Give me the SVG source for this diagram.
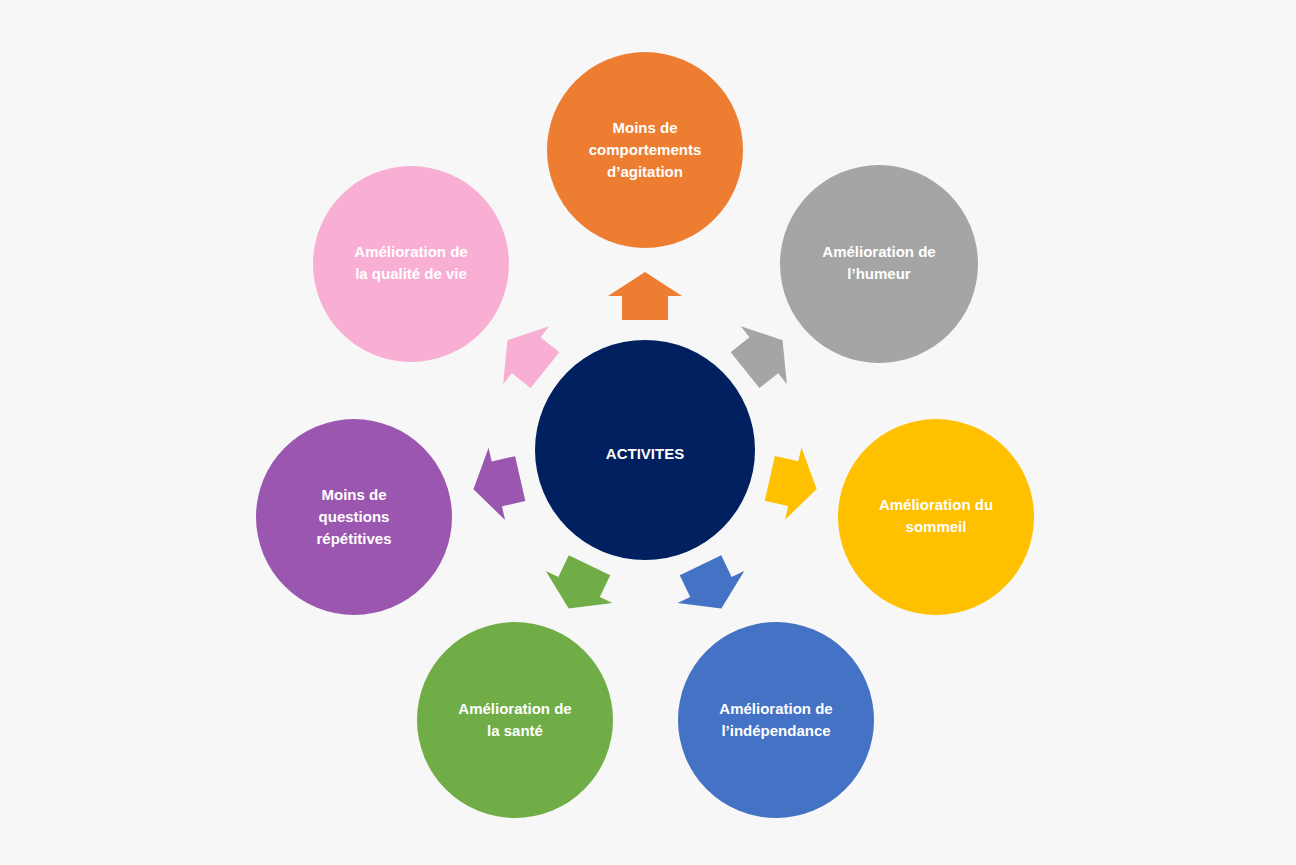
<svg xmlns="http://www.w3.org/2000/svg" width="1296" height="865" viewBox="0 0 1296 865">
<style>
text{font-family:"Liberation Sans",Arial,sans-serif;font-weight:bold;fill:#fff;font-size:15px;text-anchor:middle}
</style>
<defs><path id="arr" d="M0,-24 L37,0 L23,0 L23,24 L-23,24 L-23,0 L-37,0 Z"/></defs>
<rect width="1296" height="865" fill="#f7f7f7"/>
<g id="connectors">
<use href="#arr" fill="#ED7D31" transform="rotate(0 645 450) translate(645 296)"/>
<use href="#arr" fill="#A5A5A5" transform="rotate(51.4 645 450) translate(645 298)"/>
<use href="#arr" fill="#FFC000" transform="rotate(102.8 645 450) translate(645 298)"/>
<use href="#arr" fill="#4472C4" transform="rotate(154.3 645 450) translate(645 298)"/>
<use href="#arr" fill="#70AD47" transform="rotate(205.7 645 450) translate(645 298)"/>
<use href="#arr" fill="#9B57B0" transform="rotate(257.1 645 450) translate(645 298)"/>
<use href="#arr" fill="#F9AED3" transform="rotate(308.6 645 450) translate(645 298)"/>
</g>
<g id="center"><circle cx="645" cy="450" r="110" fill="#002060"/><text x="645" y="459" font-size="26">ACTIVITES</text></g>
<g id="n1"><circle cx="645" cy="150" r="98" fill="#ED7D31"/><text x="645" y="133">Moins de</text><text x="645" y="155">comportements</text><text x="645" y="177">d’agitation</text></g>
<g id="n2"><circle cx="879" cy="264" r="99" fill="#A5A5A5"/><text x="879" y="257">Amélioration de</text><text x="879" y="279">l’humeur</text></g>
<g id="n3"><circle cx="936" cy="517" r="98" fill="#FFC000"/><text x="936" y="510">Amélioration du</text><text x="936" y="532">sommeil</text></g>
<g id="n4"><circle cx="776" cy="720" r="98" fill="#4472C4"/><text x="776" y="714">Amélioration de</text><text x="776" y="736">l’indépendance</text></g>
<g id="n5"><circle cx="515" cy="720" r="98" fill="#70AD47"/><text x="515" y="714">Amélioration de</text><text x="515" y="736">la santé</text></g>
<g id="n6"><circle cx="354" cy="517" r="98" fill="#9B57B0"/><text x="354" y="500">Moins de</text><text x="354" y="522">questions</text><text x="354" y="544">répétitives</text></g>
<g id="n7"><circle cx="411" cy="264" r="98" fill="#F9AED3"/><text x="411" y="257">Amélioration de</text><text x="411" y="279">la qualité de vie</text></g>
</svg>
